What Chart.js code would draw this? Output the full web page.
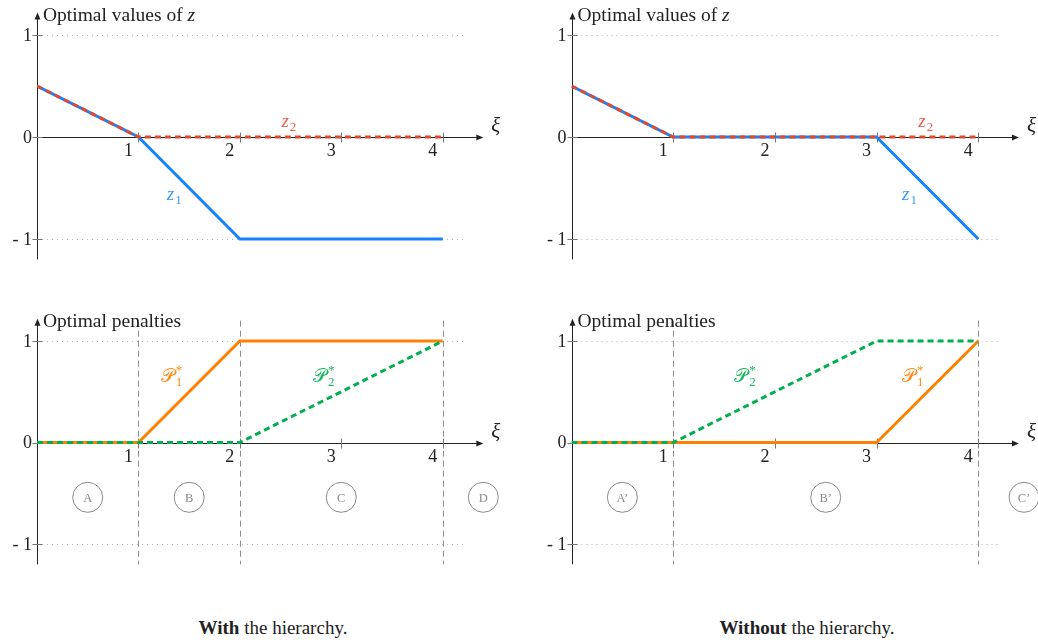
<!DOCTYPE html>
<html>
<head>
<meta charset="utf-8">
<script src="https://cdn.jsdelivr.net/npm/chart.js@4.4.0/dist/chart.umd.min.js"></script>
<style>
  html, body { margin: 0; padding: 0; background: #fff; }
  body { width: 1038px; height: 644px; position: relative; overflow: hidden; font-family: 'Liberation Serif', serif; }
  .panel { position: absolute; width: 519px; height: 290px; }
  .caption { position: absolute; top: 617px; font-size: 19px; color: #222; transform: translateX(-50%); white-space: nowrap; }
</style>
</head>
<body>
<div class="panel" style="left:0;top:0"><canvas id="zWith"></canvas></div>
<div class="panel" style="left:519px;top:0"><canvas id="zWithout"></canvas></div>
<div class="panel" style="left:0;top:300px"><canvas id="pWith"></canvas></div>
<div class="panel" style="left:519px;top:300px"><canvas id="pWithout"></canvas></div>
<div class="caption" style="left:273px"><b>With</b> the hierarchy.</div>
<div class="caption" style="left:807px"><b>Without</b> the hierarchy.</div>

<script>
// Data
const xiValues = [0, 1, 2, 3, 4];
const z1With = [0.5, 0, -1, -1, -1];
const z2With = [0.5, 0, 0, 0, 0];
const z1Without = [0.5, 0, 0, 0, -1];
const z2Without = [0.5, 0, 0, 0, 0];
const p1With = [0, 0, 1, 1, 1];
const p2With = [0, 0, 0, 0.5, 1];
const p1Without = [0, 0, 0, 0, 1];
const p2Without = [0, 0, 0.5, 1, 1];

const xTicks = [1, 2, 3, 4];
const yTicks = [1, 0, -1];
const yTickLabels = ['1', '0', '- 1'];

const regionsWith = ['A', 'B', 'C', 'D'];
const regionsWithAt = [0.5, 1.5, 3, 4.4];
const regionsWithout = ['A\u2019', 'B\u2019', 'C\u2019'];
const regionsWithoutAt = [0.5, 2.5, 4.45];
const boundariesWith = [1, 2, 4];
const boundariesWithout = [1, 4];

// Colours
const BLUE = '#1583ff', RED = '#e2492c', ORANGE = '#ff8000', GREEN = '#00b050';
const SERIF = "'Liberation Serif', 'DejaVu Serif', serif";

function toPoints(ys) {
  return xiValues.map((x, i) => ({ x: x, y: ys[i] }));
}

function seg(ctx, x1, y1, x2, y2) {
  ctx.beginPath();
  ctx.moveTo(x1, y1);
  ctx.lineTo(x2, y2);
  ctx.stroke();
}

// Draws e.g. z_1 or P*_1 with sub/superscript
function drawMath(ctx, label, px, py) {
  ctx.fillStyle = label.color;
  ctx.textAlign = 'left';
  ctx.textBaseline = 'alphabetic';
  ctx.font = (label.upright ? '' : 'italic ') + '19px ' + SERIF;
  ctx.fillText(label.base, px, py);
  const w = ctx.measureText(label.base).width;
  ctx.font = '13px ' + SERIF;
  if (label.sub) ctx.fillText(label.sub, px + w + 1, py + 4);
  if (label.sup) ctx.fillText(label.sup, px + w + 1, py - 8);
}

// Axes, ticks, grid, boundaries, region circles and labels
const decorPlugin = {
  id: 'decor',
  beforeDatasetsDraw(chart, args, opts) {
    const ctx = chart.ctx;
    const x = chart.scales.x, y = chart.scales.y;
    const area = chart.chartArea;
    const x0 = x.getPixelForValue(0), y0 = y.getPixelForValue(0);
    ctx.save();

    // dotted lines at +1 / -1
    ctx.strokeStyle = '#b5b5b5';
    ctx.lineWidth = 1;
    ctx.setLineDash([1, 4]);
    [1, -1].forEach(v => {
      const py = Math.round(y.getPixelForValue(v)) + 0.5;
      seg(ctx, x0, py, x.getPixelForValue(4.2), py);
    });

    // vertical dashed boundaries
    ctx.strokeStyle = '#8c8c8c';
    ctx.setLineDash([6, 4]);
    (opts.boundaries || []).forEach(v => {
      const px = Math.round(x.getPixelForValue(v)) + 0.5;
      seg(ctx, px, area.top, px, area.bottom);
    });
    ctx.setLineDash([]);

    // axes
    ctx.strokeStyle = '#222';
    ctx.fillStyle = '#222';
    ctx.lineWidth = 1;
    const xEnd = x.getPixelForValue(4.4);
    const yTop = y.getPixelForValue(1.22);
    const ax = Math.round(x0) + 0.5, ay = Math.round(y0) + 0.5;
    seg(ctx, ax, area.bottom, ax, yTop + 4);
    seg(ctx, ax, ay, xEnd - 4, ay);
    ctx.beginPath();
    ctx.moveTo(xEnd, ay); ctx.lineTo(xEnd - 7, ay - 3); ctx.lineTo(xEnd - 7, ay + 3); ctx.closePath();
    ctx.fill();
    ctx.beginPath();
    ctx.moveTo(ax, yTop); ctx.lineTo(ax - 3, yTop + 7); ctx.lineTo(ax + 3, yTop + 7); ctx.closePath();
    ctx.fill();

    // tick marks
    ctx.strokeStyle = '#777';
    xTicks.forEach(v => {
      const px = Math.round(x.getPixelForValue(v)) + 0.5;
      seg(ctx, px, ay - 5, px, ay + 5);
    });
    yTicks.forEach(v => {
      const py = Math.round(y.getPixelForValue(v)) + 0.5;
      seg(ctx, ax - 5, py, ax + 5, py);
    });
    ctx.restore();
  },
  afterDatasetsDraw(chart, args, opts) {
    const ctx = chart.ctx;
    const x = chart.scales.x, y = chart.scales.y;
    const area = chart.chartArea;
    const x0 = x.getPixelForValue(0), y0 = y.getPixelForValue(0);
    ctx.save();

    // tick labels
    ctx.fillStyle = '#222';
    ctx.font = '18px ' + SERIF;
    ctx.textAlign = 'center';
    ctx.textBaseline = 'alphabetic';
    xTicks.forEach(v => ctx.fillText(String(v), x.getPixelForValue(v) - 10, y0 + 19));
    ctx.textAlign = 'right';
    ctx.textBaseline = 'middle';
    yTicks.forEach((v, i) => ctx.fillText(yTickLabels[i], x0 - 5, y.getPixelForValue(v) + 1));

    // xi label
    ctx.textAlign = 'left';
    ctx.textBaseline = 'alphabetic';
    ctx.font = 'italic 21px ' + SERIF;
    ctx.fillText('\u03BE', x.getPixelForValue(4.4) + 8, y0 - 5);

    // title
    ctx.font = '19.5px ' + SERIF;
    ctx.fillText(opts.title, x0 + 6, area.top + 6);
    if (opts.titleVar) {
      const w = ctx.measureText(opts.title).width;
      ctx.font = 'italic 19.5px ' + SERIF;
      ctx.fillText(opts.titleVar, x0 + 6 + w, area.top + 6);
    }

    // region circles
    const names = opts.regions || [];
    names.forEach((name, i) => {
      const px = x.getPixelForValue(opts.regionsAt[i]);
      const py = y.getPixelForValue(-0.54);
      ctx.strokeStyle = '#8a8a8a';
      ctx.lineWidth = 1;
      ctx.beginPath();
      ctx.arc(px, py, 15, 0, Math.PI * 2);
      ctx.stroke();
      ctx.fillStyle = '#8a8a8a';
      ctx.font = '12.5px ' + SERIF;
      ctx.textAlign = 'center';
      ctx.textBaseline = 'middle';
      ctx.fillText(name, px, py + 1);
    });

    // curve labels
    (opts.labels || []).forEach(l => drawMath(ctx, l, x.getPixelForValue(l.at[0]), y.getPixelForValue(l.at[1])));
    ctx.restore();
  }
};

function dashed(label, ys, color) {
  return { label: label, data: toPoints(ys), borderColor: color, borderWidth: 3, borderDash: [6, 4], pointRadius: 0, fill: false, tension: 0 };
}
function solid(label, ys, color) {
  return { label: label, data: toPoints(ys), borderColor: color, borderWidth: 3, pointRadius: 0, fill: false, tension: 0 };
}

function makeChart(id, datasets, padding, decor) {
  const ctx = document.getElementById(id).getContext('2d');
  return new Chart(ctx, {
    type: 'line',
    data: { datasets: datasets },
    options: {
      responsive: true,
      maintainAspectRatio: false,
      animation: false,
      layout: { padding: padding },
      scales: {
        x: { type: 'linear', min: 0, max: 4.2, display: false },
        y: { type: 'linear', min: -1.2, max: 1.2, display: false }
      },
      plugins: {
        legend: { display: false },
        tooltip: { enabled: false },
        decor: decor
      }
    },
    plugins: [decorPlugin]
  });
}

// first dataset is drawn on top
makeChart('zWith',
  [dashed('z2', z2With, RED), solid('z1', z1With, BLUE)],
  { left: 37, right: 56, top: 14.6, bottom: 30.6 },
  { title: 'Optimal values of ', titleVar: 'z',
    labels: [
      { base: 'z', sub: '1', at: [1.28, -0.62], color: '#3a98ff' },
      { base: 'z', sub: '2', at: [2.41, 0.1], color: '#e8604a' }
    ] });

makeChart('zWithout',
  [dashed('z2', z2Without, RED), solid('z1', z1Without, BLUE)],
  { left: 52.5, right: 39.4, top: 14.6, bottom: 30.6 },
  { title: 'Optimal values of ', titleVar: 'z',
    labels: [
      { base: 'z', sub: '1', at: [3.25, -0.62], color: '#3a98ff' },
      { base: 'z', sub: '2', at: [3.41, 0.1], color: '#e8604a' }
    ] });

makeChart('pWith',
  [dashed('P2', p2With, GREEN), solid('P1', p1With, ORANGE)],
  { left: 37, right: 56, top: 20.7, bottom: 25.7 },
  { title: 'Optimal penalties', boundaries: boundariesWith,
    regions: regionsWith, regionsAt: regionsWithAt,
    labels: [
      { base: '\uD835\uDCAB', upright: true, sub: '1', sup: '*', at: [1.22, 0.6], color: '#ff8c1a' },
      { base: '\uD835\uDCAB', upright: true, sub: '2', sup: '*', at: [2.72, 0.6], color: '#1ab560' }
    ] });

makeChart('pWithout',
  [dashed('P2', p2Without, GREEN), solid('P1', p1Without, ORANGE)],
  { left: 52.5, right: 39.4, top: 20.7, bottom: 25.7 },
  { title: 'Optimal penalties', boundaries: boundariesWithout,
    regions: regionsWithout, regionsAt: regionsWithoutAt,
    labels: [
      { base: '\uD835\uDCAB', upright: true, sub: '2', sup: '*', at: [1.6, 0.6], color: '#1ab560' },
      { base: '\uD835\uDCAB', upright: true, sub: '1', sup: '*', at: [3.25, 0.6], color: '#ff8c1a' }
    ] });
</script>
</body>
</html>
